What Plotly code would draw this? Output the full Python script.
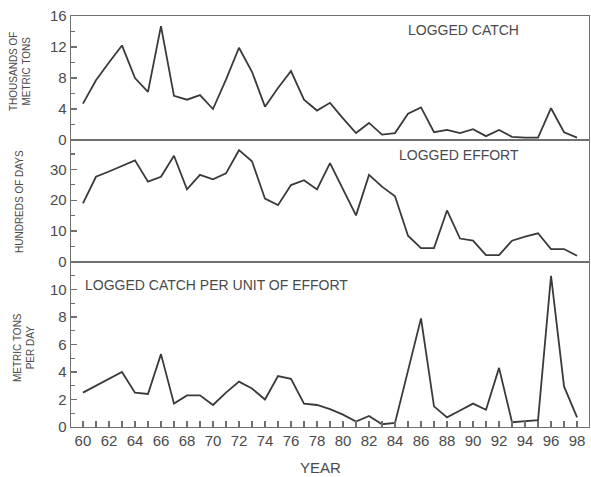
import plotly.graph_objects as go

years = list(range(60, 99))
catch = [4.7, 7.7, 10.0, 12.2, 8.0, 6.2, 14.7, 5.7, 5.2, 5.8, 4.0, 7.8, 11.9, 8.8, 4.3,
         6.7, 8.9, 5.2, 3.8, 4.8, 2.8, 0.9, 2.2, 0.7, 0.9, 3.4, 4.2, 1.0, 1.3, 0.9,
         1.4, 0.5, 1.3, 0.4, 0.3, 0.3, 4.1, 1.0, 0.3]
effort = [19.0, 27.6, 29.3, 31.1, 32.9, 26.0, 27.6, 34.4, 23.5, 28.2, 26.8, 28.7, 36.2, 32.6, 20.5,
          18.4, 24.9, 26.5, 23.5, 32.0, 23.8, 15.1, 28.2, 24.4, 21.3, 8.5, 4.5, 4.5, 16.7, 7.6,
          6.9, 2.2, 2.2, 6.9, 8.2, 9.3, 4.2, 4.2, 2.0]
cpue = [2.5, 3.0, 3.5, 4.0, 2.5, 2.4, 5.3, 1.7, 2.3, 2.3, 1.6, 2.5, 3.3, 2.8, 2.0,
        3.7, 3.5, 1.7, 1.6, 1.3, 0.9, 0.4, 0.8, 0.2, 0.3, 4.1, 7.9, 1.5, 0.7, 1.2,
        1.7, 1.25, 4.3, 0.35, 0.4, 0.5, 11.0, 2.95, 0.7]

x_tickvals = list(range(60, 99))
x_ticktext = [str(y) if y % 2 == 0 else "" for y in x_tickvals]

y_tickvals = [[0, 4, 8, 12, 16], [0, 10, 20, 30], [0, 2, 4, 6, 8, 10]]
y_minorvals = [[2, 6, 10, 14], [5, 15, 25, 35], [1, 3, 5, 7, 9, 11]]

panel_titles = ["LOGGED CATCH", "LOGGED EFFORT", "LOGGED CATCH PER UNIT OF EFFORT"]
y_titles = ["THOUSANDS OF<br>METRIC TONS", "HUNDREDS OF DAYS", "METRIC TONS<br>PER DAY"]
x_title = "YEAR"

W, H = 591, 477
ML, MR, MT, MB = 71, 2, 16, 50
PW = W - ML - MR
PH = H - MT - MB
LINE = "#3a3a3a"
FRAME = "#707070"
TXT = "#4a4a4a"
FONT = "Liberation Sans, Arial, sans-serif"

def dom(p):
    return (H - MB - p) / PH

def px(p):
    return (p - ML) / PW

fig = go.Figure()
series = [catch, effort, cpue]
for i, s in enumerate(series):
    fig.add_trace(go.Scatter(x=years, y=s, mode="lines",
                             line=dict(color=LINE, width=1.8),
                             xaxis="x" if i == 0 else f"x{i+1}",
                             yaxis="y" if i == 0 else f"y{i+1}",
                             showlegend=False, hoverinfo="skip"))

ydoms = [[dom(140), dom(16)], [dom(262), dom(140)], [dom(427), dom(262)]]
yranges = [[0, 16], [0, 39.5], [0, 12]]
xrange_ = [59.08, 98.92]

layout = dict(width=W, height=H, margin=dict(l=ML, r=MR, t=MT, b=MB, autoexpand=False),
              paper_bgcolor="white", plot_bgcolor="white",
              font=dict(family=FONT, color=TXT))

for i in range(3):
    xk = "xaxis" if i == 0 else f"xaxis{i+1}"
    yk = "yaxis" if i == 0 else f"yaxis{i+1}"
    ya = "y" if i == 0 else f"y{i+1}"
    xa = "x" if i == 0 else f"x{i+1}"
    last = (i == 2)
    layout[xk] = dict(domain=[0, 1], range=xrange_, anchor=ya, automargin=False,
                      showline=True, linecolor=FRAME, linewidth=1.4, mirror=True,
                      showgrid=False, zeroline=False,
                      tickmode="array", tickvals=x_tickvals,
                      ticktext=x_ticktext if last else [""] * len(x_tickvals),
                      ticks="inside" if last else "", ticklen=6, tickwidth=1.4, tickcolor=FRAME,
                      tickfont=dict(size=15, color=TXT, family=FONT),
                      showticklabels=last)
    layout[yk] = dict(domain=ydoms[i], range=yranges[i], anchor=xa, automargin=False,
                      showline=True, linecolor=FRAME, linewidth=1.4, mirror=True,
                      showgrid=False, zeroline=False,
                      tickmode="array", tickvals=y_tickvals[i],
                      ticks="inside", ticklen=6, tickwidth=1.4, tickcolor=FRAME,
                      minor=dict(tickmode="array", tickvals=y_minorvals[i], ticks="inside",
                                 ticklen=4, tickwidth=1.2, tickcolor=FRAME),
                      tickfont=dict(size=15, color=TXT, family=FONT))

fig.update_layout(**layout)

def a(text, x, y, xanchor="center", size=14, angle=0):
    return dict(text=text, x=px(x), y=dom(y), xref="paper", yref="paper",
                showarrow=False, xanchor=xanchor, yanchor="middle", textangle=angle,
                font=dict(size=size, color=TXT, family=FONT))

ann = [
    a(panel_titles[0], 463, 30),
    a(panel_titles[1], 459, 155),
    a(panel_titles[2], 83, 285, xanchor="left"),
    a(y_titles[0], 20, 72, size=10, angle=-90),
    a(y_titles[1], 19, 202, size=10, angle=-90),
    a(y_titles[2], 24, 348, size=10, angle=-90),
    a(x_title, 320, 467, size=15),
]
fig.update_layout(annotations=ann)

fig.write_html("out.html", config={"displayModeBar": False, "staticPlot": True},
               post_script="document.body.style.margin='0px';document.body.style.padding='0px';")
